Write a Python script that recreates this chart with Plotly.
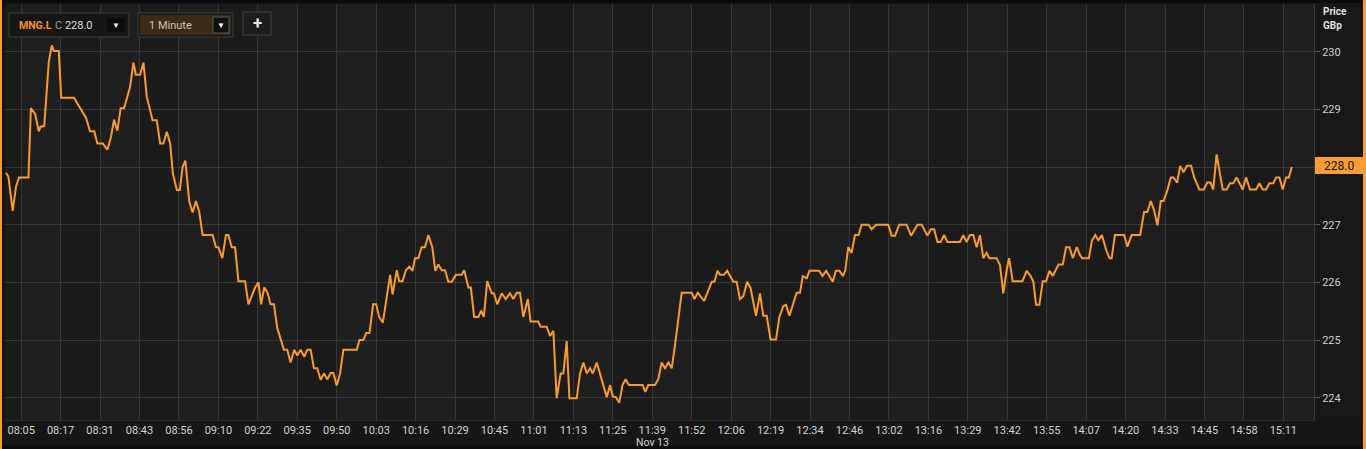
import plotly.graph_objects as go

# ---------------- data ----------------
symbol = "MNG.L"
interval_label = "1 Minute"
last_price = 228.0
date_label = "Nov 13"
date_under_tick = "11:39"
axis_title_1 = "Price"
axis_title_2 = "GBp"

bar_index = [
    0, 0.8, 2.2, 3.3, 4.3, 7.4, 8.2, 9.6, 10.8, 11.4, 12.6, 14.1, 15.1, 15.8, 17.4, 18.2,
    22.4, 24.2, 26.4, 27.7, 29.1, 30.1, 31.9, 33.4, 34.6, 35.6, 36.7, 37.8, 38.9, 40.9,
    42.0, 42.8, 44.2, 45.3, 46.4, 48.3, 49.7, 50.8, 51.9, 53.0, 54.1, 55.0, 56.3, 57.3,
    58.2, 59.1, 60.4, 61.5, 62.6, 63.7, 64.8, 68.1, 69.2, 70.0, 71.3, 72.5, 73.3, 74.4,
    75.5, 76.6, 78.8, 79.9, 81.0, 82.1, 83.2, 84.1, 85.1, 86.2, 87.2, 88.3, 89.4, 90.6,
    91.6, 92.7, 93.8, 95.0, 96.0, 97.1, 98.3, 99.3, 100.4, 101.5, 102.6, 103.7, 104.8,
    105.9, 107.0, 107.9, 109.0, 110.1, 111.2, 115.6, 116.5, 117.8, 118.7, 119.8, 121.0,
    122.0, 123.0, 124.2, 125.5, 126.6, 127.4, 128.8, 129.6, 130.7, 131.8, 132.9, 134.0,
    134.8, 135.9, 137.0, 138.1, 139.2, 140.5, 141.5, 142.5, 143.6, 144.7, 145.8, 146.9,
    148.3, 150.2, 151.0, 152.4, 153.2, 154.3, 155.7, 156.6, 157.5, 158.6, 160.1, 160.8,
    161.9, 163.4, 164.7, 166.1, 167.2, 168.3, 169.4, 170.5, 172.0, 172.9, 175.4, 176.2,
    178.2, 179.3, 180.4, 181.5, 182.8, 183.7, 184.8, 185.7, 188.1, 189.2, 190.3, 191.4,
    192.5, 193.4, 194.7, 198.0, 199.1, 200.0, 201.0, 202.1, 203.2, 204.2, 205.3, 209.8,
    210.7, 211.7, 213.9, 215.0, 216.1, 217.2, 218.3, 219.4, 220.5, 222.7, 226.0, 226.9,
    228.0, 230.1, 232.6, 233.5, 234.5, 235.3, 236.6, 237.7, 239.7, 240.8, 241.9, 243.0,
    244.3, 245.4, 247.2, 248.5, 249.6, 250.7, 252.0, 253.8, 254.9, 256.2, 257.1, 258.2,
    259.3, 260.6, 261.7, 262.6, 263.9, 264.8, 268.0, 269.1, 270.3, 271.4, 272.5, 273.5,
    274.7, 275.8, 276.6, 277.6, 278.7, 279.8, 281.0, 282.0, 284.3, 285.3, 286.8, 290.8,
    291.9, 293.0, 294.4, 296.8, 298.3, 300.4, 301.8, 303.7, 304.8, 305.9, 307.0, 308.0,
    309.2, 310.3, 314.4, 315.5, 316.6, 317.7, 318.8, 319.9, 321.0, 322.1, 323.2, 324.1,
    326.5, 327.6, 328.7, 329.8, 330.6, 331.8, 335.0, 336.4, 337.7, 338.6, 339.5, 340.6,
    341.7, 342.8, 343.9, 345.0, 346.9, 348.3, 349.4, 350.5, 351.6, 352.9, 354.0, 354.7,
    356.9, 357.9, 359.0, 360.0, 361.2, 362.6, 363.7, 364.4, 365.5, 368.5, 369.6, 371.0,
    373.8, 375.1, 376.2, 377.3, 378.4, 379.5, 380.6, 381.5, 382.8, 383.9, 384.8, 386.0,
    387.0, 388.1, 389.2, 390.6, 391.6, 393.3, 394.8, 395.9, 397.0, 397.9, 399.0, 401.0,
    402.3, 403.4, 404.5, 405.6, 407.6, 408.7, 410.0, 412.0, 413.1, 414.2, 415.3, 416.4,
    417.7, 418.6, 419.7, 420.8, 421.9, 422.8, 423.8,
]

price = [
    227.90, 227.83, 227.24, 227.66, 227.82, 227.82, 229.02, 228.92, 228.62, 228.70, 228.71,
    229.82, 230.11, 230.01, 230.01, 229.20, 229.20, 229.04, 228.85, 228.62, 228.62, 228.41,
    228.41, 228.30, 228.52, 228.82, 228.63, 229.02, 229.02, 229.39, 229.81, 229.60, 229.60,
    229.81, 229.22, 228.81, 228.81, 228.41, 228.41, 228.61, 228.41, 227.89, 227.60, 227.60,
    228.00, 228.11, 227.40, 227.21, 227.41, 227.22, 226.82, 226.82, 226.61, 226.61, 226.42,
    226.82, 226.82, 226.61, 226.61, 226.02, 226.02, 225.62, 225.78, 225.91, 226.00, 225.62,
    225.91, 225.82, 225.62, 225.62, 225.21, 225.01, 224.83, 224.83, 224.61, 224.83, 224.73,
    224.83, 224.71, 224.83, 224.83, 224.51, 224.51, 224.31, 224.42, 224.32, 224.43, 224.43,
    224.21, 224.42, 224.83, 224.83, 225.00, 225.00, 225.12, 225.12, 225.62, 225.62, 225.40,
    225.30, 225.78, 226.13, 225.79, 226.21, 226.02, 226.02, 226.21, 226.27, 226.20, 226.42,
    226.42, 226.61, 226.61, 226.82, 226.61, 226.20, 226.31, 226.21, 226.21, 226.01, 226.01,
    226.13, 226.13, 226.21, 225.91, 225.91, 225.40, 225.40, 225.51, 225.40, 226.02, 225.81,
    225.81, 225.62, 225.81, 225.71, 225.81, 225.71, 225.82, 225.82, 225.40, 225.71, 225.32,
    225.32, 225.23, 225.23, 225.07, 225.16, 223.99, 224.42, 224.42, 224.98, 223.99, 223.99,
    224.42, 224.61, 224.42, 224.51, 224.42, 224.61, 224.01, 224.22, 224.02, 224.01, 223.91,
    224.22, 224.32, 224.22, 224.22, 224.10, 224.22, 224.22, 224.32, 224.61, 224.51, 224.61,
    224.51, 224.91, 225.82, 225.82, 225.71, 225.82, 225.68, 226.01, 226.01, 226.20, 226.13,
    226.13, 226.20, 226.01, 226.01, 225.71, 225.76, 226.01, 225.90, 225.42, 225.81, 225.42,
    225.42, 225.01, 225.01, 225.40, 225.59, 225.61, 225.42, 225.61, 225.82, 225.82, 226.11,
    226.07, 226.20, 226.20, 226.11, 226.20, 226.11, 226.01, 226.20, 226.20, 226.11, 226.20,
    226.61, 226.51, 226.82, 226.82, 227.00, 227.00, 226.92, 227.00, 227.00, 226.81, 226.81,
    227.00, 227.00, 226.81, 227.00, 227.00, 226.81, 226.92, 226.92, 226.70, 226.70, 226.82,
    226.70, 226.70, 226.82, 226.70, 226.82, 226.82, 226.61, 226.82, 226.42, 226.51, 226.42,
    226.42, 226.30, 225.81, 226.21, 226.42, 226.02, 226.02, 226.20, 226.11, 226.01, 225.61,
    225.61, 226.02, 226.02, 226.20, 226.11, 226.31, 226.31, 226.61, 226.61, 226.42, 226.61,
    226.47, 226.42, 226.42, 226.72, 226.82, 226.73, 226.82, 226.56, 226.42, 226.42, 226.82,
    226.82, 226.62, 226.82, 226.82, 227.22, 227.22, 227.41, 227.25, 226.99, 227.41, 227.41,
    227.60, 227.82, 227.82, 227.73, 228.02, 227.91, 228.02, 228.02, 227.82, 227.61, 227.61,
    227.73, 227.73, 227.61, 228.22, 227.61, 227.61, 227.72, 227.72, 227.82, 227.61, 227.82,
    227.61, 227.61, 227.72, 227.61, 227.61, 227.72, 227.72, 227.82, 227.82, 227.61, 227.82,
    227.82, 228.00,
]

tick_labels = [
    "08:05", "08:17", "08:31", "08:43", "08:56", "09:10", "09:22", "09:35", "09:50",
    "10:03", "10:16", "10:29", "10:45", "11:01", "11:13", "11:25", "11:39", "11:52",
    "12:06", "12:19", "12:34", "12:46", "13:02", "13:16", "13:29", "13:42", "13:55",
    "14:07", "14:20", "14:33", "14:45", "14:58", "15:11",
]
price_ticks = [224, 225, 226, 227, 228, 229, 230]

# ---------------- layout geometry ----------------
W, H = 1366, 449
L, R, T, B = 5, 52, 4, 29
PW, PH = W - L - R, H - T - B

def px(x):
    return (x - L) / PW

def py(y):
    return (H - B - y) / PH

tick_vals = [5 + 13 * k for k in range(len(tick_labels))]
x_range = [-0.33, 431.1]
y_range = [223.613, 230.827]
# the last-price tag covers the tick label at that level
price_tick_text = ["" if v == last_price else str(v) for v in price_ticks]

ORANGE = "#f99b30"
FONT = "Roboto"

fig = go.Figure()
fig.add_trace(go.Scatter(
    x=bar_index, y=price, mode="lines",
    line=dict(color=ORANGE, width=2), hoverinfo="skip", showlegend=False,
))

shapes = []
edges = [x_range[0]] + tick_vals + [x_range[1]]
for k in range(len(edges) - 1):
    col = "#1e1e1e" if (k % 2 == 1) else "#1a1a1a"
    shapes.append(dict(type="rect", xref="x", yref="paper", x0=edges[k], x1=edges[k + 1],
                       y0=0, y1=1, fillcolor=col, line_width=0, layer="below"))
shapes.append(dict(type="rect", xref="paper", yref="paper", x0=px(1314), x1=px(1363),
                   y0=py(420), y1=py(3), fillcolor="#171717", line_width=0, layer="below"))
shapes.append(dict(type="rect", xref="paper", yref="paper", x0=px(0), x1=px(1363),
                   y0=py(445), y1=py(420), fillcolor="#161616", line_width=0, layer="below"))
shapes.append(dict(type="rect", xref="paper", yref="paper", x0=px(0), x1=px(1366),
                   y0=py(3), y1=py(0), fillcolor="#0b0b0b", line_width=0))
shapes.append(dict(type="rect", xref="paper", yref="paper", x0=px(0), x1=px(1366),
                   y0=py(449), y1=py(446), fillcolor="#0b0b0b", line_width=0))
shapes.append(dict(type="rect", xref="paper", yref="paper", x0=px(0), x1=px(2),
                   y0=py(449), y1=py(0), fillcolor=ORANGE, line_width=0))
shapes.append(dict(type="rect", xref="paper", yref="paper", x0=px(1363), x1=px(1366),
                   y0=py(449), y1=py(0), fillcolor=ORANGE, line_width=0))
shapes.append(dict(type="rect", xref="paper", yref="paper", x0=px(1315), x1=px(1363),
                   y0=py(174), y1=py(157), fillcolor="#f99d36", line_width=0))
shapes.append(dict(type="rect", xref="paper", yref="paper", x0=px(9), x1=px(129),
                   y0=py(37), y1=py(13), fillcolor="#161616",
                   line=dict(color="#3c3c3c", width=1)))
shapes.append(dict(type="rect", xref="paper", yref="paper", x0=px(107), x1=px(125),
                   y0=py(32), y1=py(18), fillcolor="#0c0c0c", line_width=0))
shapes.append(dict(type="rect", xref="paper", yref="paper", x0=px(138), x1=px(233),
                   y0=py(37), y1=py(13), fillcolor="#161616",
                   line=dict(color="#3c3c3c", width=1)))
shapes.append(dict(type="rect", xref="paper", yref="paper", x0=px(140), x1=px(231),
                   y0=py(35), y1=py(15), fillcolor="#3a2b15", line_width=0))
shapes.append(dict(type="rect", xref="paper", yref="paper", x0=px(213), x1=px(229),
                   y0=py(33), y1=py(17), fillcolor="#101010",
                   line=dict(color="#5a5a5a", width=1)))
shapes.append(dict(type="rect", xref="paper", yref="paper", x0=px(243), x1=px(271),
                   y0=py(35), y1=py(12), fillcolor="#1c1c1c",
                   line=dict(color="#404040", width=1)))

ann = []
def text(x, y, s, size=11, color="#d0d0d0", xanchor="left"):
    ann.append(dict(x=px(x), y=py(y), xref="paper", yref="paper", text=s, showarrow=False,
                    xanchor=xanchor, yanchor="middle",
                    font=dict(family=FONT, size=size, color=color)))

text(1321, 11, "<b>" + axis_title_1 + "</b>", size=10, color="#e0e0e0")
text(1321, 25, "<b>" + axis_title_2 + "</b>", size=10, color="#e0e0e0")
text(1339, 166, f"{last_price:.1f}", size=12, color="#111111", xanchor="center")
text(17, 25, "<b>" + symbol + "</b>", size=10.5, color="#f7931e")
text(53, 25, f'<span style="color:#9a9a9a">C</span> {last_price:.1f}', size=11, color="#dddddd")
text(116, 25, "▼", size=8, color="#e8e8e8", xanchor="center")
text(147, 25, interval_label, size=11, color="#cfc3ad")
text(221, 25, "▼", size=8, color="#ffffff", xanchor="center")
text(257, 23, "<b>+</b>", size=17, color="#e6e6e6", xanchor="center")
date_x = tick_vals[tick_labels.index(date_under_tick)]
ann.append(dict(x=date_x, y=py(442), xref="x", yref="paper", text=date_label,
                showarrow=False, xanchor="center", yanchor="middle",
                font=dict(family=FONT, size=10.5, color="#d2d2d2")))

fig.update_layout(
    width=W, height=H,
    margin=dict(l=L, r=R, t=T, b=B, pad=0, autoexpand=False),
    paper_bgcolor="#121212", plot_bgcolor="#1c1c1c",
    shapes=shapes, annotations=ann, showlegend=False, hovermode=False,
    xaxis=dict(range=x_range, tickmode="array", tickvals=tick_vals, ticktext=tick_labels,
               showgrid=True, gridcolor="#363636", gridwidth=1, zeroline=False,
               ticks="", automargin=False,
               showline=True, linecolor="#2a2a2a",
               tickfont=dict(family=FONT, size=11, color="#d2d2d2")),
    yaxis=dict(range=y_range, side="right", tickmode="array", tickvals=price_ticks,
               ticktext=price_tick_text,
               showgrid=True, gridcolor="#363636", gridwidth=1, zeroline=False,
               ticks="outside", ticklen=5, tickcolor="#555555", automargin=False,
               showline=True, linecolor="#3a3a3a",
               tickfont=dict(family=FONT, size=11, color="#cfcfcf")),
)

fig.write_html("out.html", config={"displayModeBar": False},
               post_script="document.body.style.margin='0px';document.body.style.overflow='hidden';")
